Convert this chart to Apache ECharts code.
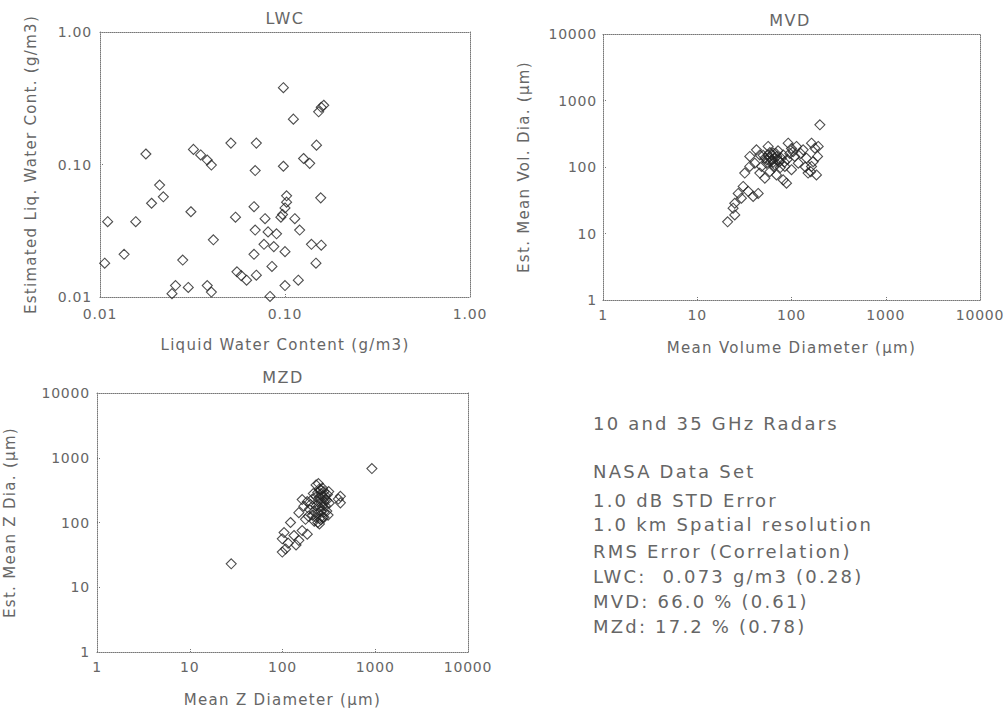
<!DOCTYPE html>
<html><head><meta charset="utf-8">
<script src="https://cdn.jsdelivr.net/npm/echarts@6/dist/echarts.min.js"></script>
<style>html,body{margin:0;padding:0;background:#fff}#c{width:1007px;height:708px}#c svg text{white-space:pre}</style>
</head><body><div id="c"></div>
<script>
// ---- LWC panel (g/m3): measured vs estimated ----
const lwcMeasured = [0.098,0.157,0.162,0.152,0.111,0.051,0.070,0.148,0.0177,0.032,0.035,0.038,0.040,0.069,0.098,0.126,0.136,0.021,0.019,0.022,0.011,0.0156,0.031,0.102,0.102,0.100,0.097,0.156,0.054,0.068,0.078,0.113,0.095,0.120,0.069,0.081,0.090,0.041,0.077,0.087,0.068,0.100,0.139,0.157,0.147,0.0106,0.0135,0.028,0.055,0.062,0.070,0.058,0.085,0.100,0.118,0.0256,0.030,0.038,0.040,0.0245,0.083];
const lwcEstimated = [0.38,0.27,0.28,0.25,0.22,0.145,0.145,0.14,0.12,0.13,0.118,0.108,0.099,0.090,0.097,0.111,0.102,0.070,0.051,0.057,0.037,0.037,0.044,0.058,0.052,0.047,0.042,0.056,0.040,0.048,0.039,0.039,0.040,0.032,0.032,0.031,0.030,0.027,0.025,0.024,0.021,0.022,0.025,0.0246,0.018,0.018,0.021,0.019,0.0155,0.0134,0.0146,0.0145,0.017,0.0122,0.0134,0.0122,0.0118,0.0122,0.0109,0.0106,0.0101];
// ---- MVD panel (um) ----
const mvdMeasured = [21,25,24,25,29.4,27.2,30.7,34.7,39.2,44.3,31.9,36.1,40.8,36.1,46.1,56.5,52.1,63.9,72.2,81.6,85,100,92.2,113,133,144,163,189,192,200,150,184,58.9,69.3,81.6,88.5,46.1,52.1,42.5,56.5,61.6,66.6,48.1,54.3,108,118,100,163,177,58,62,66,70,60,64,68,55,74,78,59,72,50,65,76,84,90,96,104,125,140,170,160];
const mvdEstimated = [15,19,24,28.5,34,40,51,43,36,40,81,102,114,144,152,204,136,162,128,152,102,91,228,204,181,136,102,144,204,431,81,76,85,76,64,57,81,68,181,152,128,108,102,114,144,114,190,228,192,140,150,135,145,120,118,160,128,120,135,165,175,150,100,98,118,130,160,170,160,100,120,85];
// ---- MZD panel (um) ----
const mzdMeasured = [28,920,421,421,400,163,170,150,177,122,104,99.5,108,99.5,133,163,185,150,115,140,257,290,230,250,270,240,260,280,230,250,270,290,240,260,280,300,230,250,270,220,240,260,280,210,230,250,270,220,240,260,280,250,300,290,305,200,195,210,215,190,185,320,310,315,244];
const mzdEstimated = [23,680,254,201,230,226,179,142,112,100,70,56,39,35,63,75,66,53,48,45,321,226,380,330,340,290,280,300,250,240,250,260,210,200,210,220,180,170,175,150,140,150,145,130,120,115,120,105,100,110,120,95,150,180,270,190,160,230,280,125,210,200,130,300,400];
// ---- tick labels ----
const lwcTicks = ['0.01','0.10','1.00'];
const diaTicks = ['1','10','100','1000','10000'];
const infoLines = ['10 and 35 GHz Radars','','NASA Data Set','1.0 dB STD Error','1.0 km Spatial resolution','RMS Error (Correlation)','LWC:  0.073 g/m3 (0.28)','MVD: 66.0 % (0.61)','MZd: 17.2 % (0.78)'];

const FONT = 'DejaVu Sans';
const TXT = '#666';
const lineStyle = {color:'#777', width:1, type:'dotted'};

function zip(a,b){return a.map((v,i)=>[v,b[i]]);}
function lwcFmt(v){const e=Math.round(Math.log10(v));return lwcTicks[e+2]||'';}
function diaFmt(v){const e=Math.round(Math.log10(v));return diaTicks[e]||'';}

const grids = [
  {left:100, top:32, width:370, height:265},
  {left:603, top:34, width:377, height:266},
  {left:97, top:393, width:371, height:263}
];
const panels = [
  {min:0.01,max:1,fmt:lwcFmt,xname:'Liquid Water Content (g/m3)',yname:'Estimated Liq. Water Cont. (g/m3)',ygap:62,xgap:40,ymargin:8,xmargin:10},
  {min:1,max:10000,fmt:diaFmt,xname:'Mean Volume Diameter (\u03bcm)',yname:'Est. Mean Vol. Dia. (\u03bcm)',ygap:72,xgap:40,ymargin:6,xmargin:8},
  {min:1,max:10000,fmt:diaFmt,xname:'Mean Z Diameter (\u03bcm)',yname:'Est. Mean Z Dia. (\u03bcm)',ygap:80,xgap:40,ymargin:7,xmargin:8}
];
const xAxes=[], yAxes=[];
panels.forEach((p,i)=>{
  xAxes.push({type:'log',logBase:10,gridIndex:i,min:p.min,max:p.max,position:'bottom',
    axisLine:{show:true,onZero:false,lineStyle},axisTick:{show:true,inside:true,length:4,lineStyle},
    splitLine:{show:false},axisLabel:{formatter:p.fmt,color:TXT,fontSize:14,fontFamily:FONT,margin:p.xmargin},
    name:p.xname,nameLocation:'middle',nameGap:p.xgap,nameTextStyle:{color:TXT,fontSize:15,fontFamily:FONT}});
  xAxes.push({type:'log',logBase:10,gridIndex:i,min:p.min,max:p.max,position:'top',
    axisLine:{show:true,onZero:false,lineStyle},axisTick:{show:false},axisLabel:{show:false},splitLine:{show:false}});
  yAxes.push({type:'log',logBase:10,gridIndex:i,min:p.min,max:p.max,position:'left',
    axisLine:{show:true,onZero:false,lineStyle},axisTick:{show:true,inside:true,length:4,lineStyle},
    splitLine:{show:false},axisLabel:{formatter:p.fmt,color:TXT,fontSize:14,fontFamily:FONT,margin:p.ymargin},
    name:p.yname,nameLocation:'middle',nameGap:p.ygap,nameRotate:90,nameTextStyle:{color:TXT,fontSize:15,fontFamily:FONT}});
  yAxes.push({type:'log',logBase:10,gridIndex:i,min:p.min,max:p.max,position:'right',
    axisLine:{show:true,onZero:false,lineStyle},axisTick:{show:false},axisLabel:{show:false},splitLine:{show:false}});
});
const sym = {symbol:'diamond',symbolSize:10,itemStyle:{color:'rgba(0,0,0,0)',borderColor:'#222',borderWidth:1.1}};
const series = [
  Object.assign({type:'scatter',xAxisIndex:0,yAxisIndex:0,data:zip(lwcMeasured,lwcEstimated)},sym),
  Object.assign({type:'scatter',xAxisIndex:2,yAxisIndex:2,data:zip(mvdMeasured,mvdEstimated)},sym),
  Object.assign({type:'scatter',xAxisIndex:4,yAxisIndex:4,data:zip(mzdMeasured,mzdEstimated)},sym)
];
const titles = [['LWC',285,18],['MVD',790,20],['MZD',283,377]];
const graphic = titles.map(t=>({type:'text',x:t[1],y:t[2],style:{text:t[0],fill:TXT,font:'16px "'+FONT+'"',textAlign:'center',textVerticalAlign:'middle'}}));
const lineY = [423,0,471,500,524,551,576,601,626];
infoLines.forEach((s,i)=>{ if(s) graphic.push({type:'text',x:593,y:lineY[i],style:{text:s,fill:TXT,font:'18px "'+FONT+'"',textAlign:'left',textVerticalAlign:'middle'}}); });

const chart = echarts.init(document.getElementById('c'),null,{renderer:'svg'});
// Hershey-like wide spacing for the text (by font size)
const SPACING = {14:0.8, 15:1.3, 16:1.5, 18:2.2};
function widen(){
  document.querySelectorAll('#c svg text').forEach(t=>{
    const fs = Math.round(parseFloat(getComputedStyle(t).fontSize));
    if (SPACING[fs] !== undefined) t.style.letterSpacing = SPACING[fs] + 'px';
    t.setAttribute('xml:space','preserve');
  });
}
chart.on('finished', widen);
chart.setOption({animation:false,backgroundColor:'#fff',grid:grids,xAxis:xAxes,yAxis:yAxes,series,graphic});
widen();
</script></body></html>
